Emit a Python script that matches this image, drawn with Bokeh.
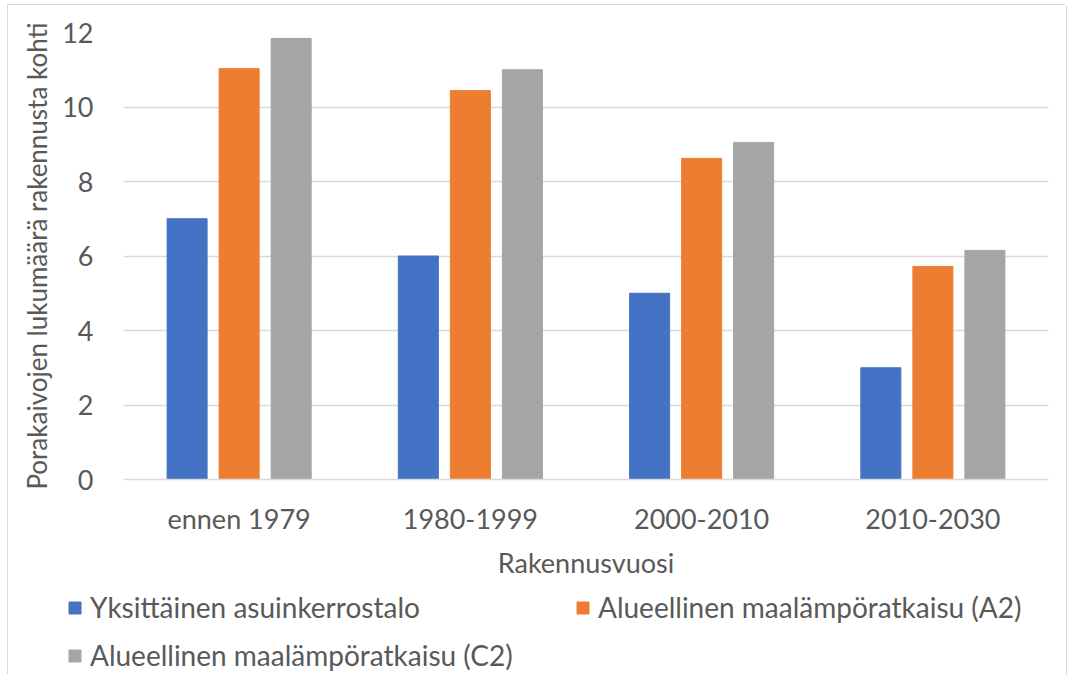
from bokeh.plotting import figure
from bokeh.layouts import column
from bokeh.models import ColumnDataSource, FactorRange, FixedTicker, Legend, LegendItem
from bokeh.transform import dodge
from bokeh.embed import file_html
from bokeh.resources import INLINE

categories = ["ennen 1979", "1980-1999", "2000-2010", "2010-2030"]
yksittainen = [7.0, 6.0, 5.0, 3.0]
alue_a2 = [11.03, 10.44, 8.62, 5.72]
alue_c2 = [11.84, 11.0, 9.05, 6.15]
series_names = ["Yksittäinen asuinkerrostalo",
                "Alueellinen maalämpöratkaisu (A2)",
                "Alueellinen maalämpöratkaisu (C2)"]
colors = ["#4472C4", "#ED7D31", "#A5A5A5"]
y_ticks = [0, 2, 4, 6, 8, 10, 12]

FONT = "Lato"
TXT = "#595959"

src = ColumnDataSource(dict(cat=categories, a=yksittainen, b=alue_a2, c=alue_c2))
cols = ["a", "b", "c"]
offsets = [-0.225, 0.0, 0.225]

p = figure(x_range=FactorRange(*categories), y_range=(0, 12),
           frame_width=925, frame_height=447,
           output_backend="svg", toolbar_location=None,
           min_border_left=115, min_border_right=18, min_border_top=27,
           min_border_bottom=101)
p.outline_line_color = None

for col, off, c in zip(cols, offsets, colors):
    p.vbar(x=dodge("cat", off, range=p.x_range), top=col, width=0.173,
           source=src, color=c)

p.xgrid.grid_line_color = None
p.ygrid.grid_line_color = "#d9d9d9"
p.ygrid.grid_line_width = 1.3
p.yaxis.ticker = FixedTicker(ticks=y_ticks)

for ax in (p.xaxis[0], p.yaxis[0]):
    ax.major_tick_line_color = None
    ax.minor_tick_line_color = None
    ax.major_tick_out = 0
    ax.major_tick_in = 0
    ax.minor_tick_out = 0
    ax.major_label_text_font = FONT
    ax.major_label_text_font_size = "27px"
    ax.major_label_text_color = TXT
    ax.axis_label_text_font = FONT
    ax.axis_label_text_font_style = "normal"
    ax.axis_label_text_color = TXT

p.yaxis.axis_label_text_font_size = "26px"
p.xaxis.axis_label_text_font_size = "27px"
p.yaxis.axis_line_color = None
p.xaxis.axis_line_color = "#d9d9d9"
p.xaxis.axis_line_width = 1.3
p.yaxis.axis_label = "Porakaivojen lukumäärä rakennusta kohti"
p.xaxis.axis_label = "Rakennusvuosi"
p.yaxis.major_label_standoff = 30
p.yaxis.axis_label_standoff = 6
p.xaxis.major_label_standoff = 22
p.xaxis.axis_label_standoff = 8

# legend panel below the chart
pl = figure(width=1058, height=94, x_range=p.x_range, y_range=(0, 1),
            output_backend="svg", toolbar_location=None,
            min_border_left=0, min_border_right=0, min_border_top=0,
            min_border_bottom=0)
pl.frame_align = False
pl.xaxis.visible = False
pl.yaxis.visible = False
pl.grid.grid_line_color = None
pl.outline_line_color = None

lr = [pl.vbar(x=dodge("cat", off, range=pl.x_range), top=col, width=0.173,
              source=src, color=c, visible=False)
      for col, off, c in zip(cols, offsets, colors)]

locs = [(59, 51), (567, 51), (59, 3)]
for name, r, loc in zip(series_names, lr, locs):
    lg = Legend(items=[LegendItem(label=name, renderers=[r])], location=loc,
                orientation="horizontal")
    lg.glyph_width = 15
    lg.glyph_height = 15
    lg.label_height = 30
    lg.label_standoff = 8
    lg.padding = 0
    lg.margin = 0
    lg.border_line_color = None
    lg.background_fill_alpha = 0
    lg.inactive_fill_alpha = 0
    lg.click_policy = "none"
    lg.label_text_font = FONT
    lg.label_text_font_size = "28px"
    lg.label_text_color = TXT
    pl.add_layout(lg, "center")

layout = column(p, pl, spacing=0, margin=(5, 0, 0, 8))
layout.styles = {"box-shadow": "-1px -1px 0 0 #d9d9d9, 1px 0 0 0 #d9d9d9"}

open("out.html", "w").write(file_html(layout, INLINE))
